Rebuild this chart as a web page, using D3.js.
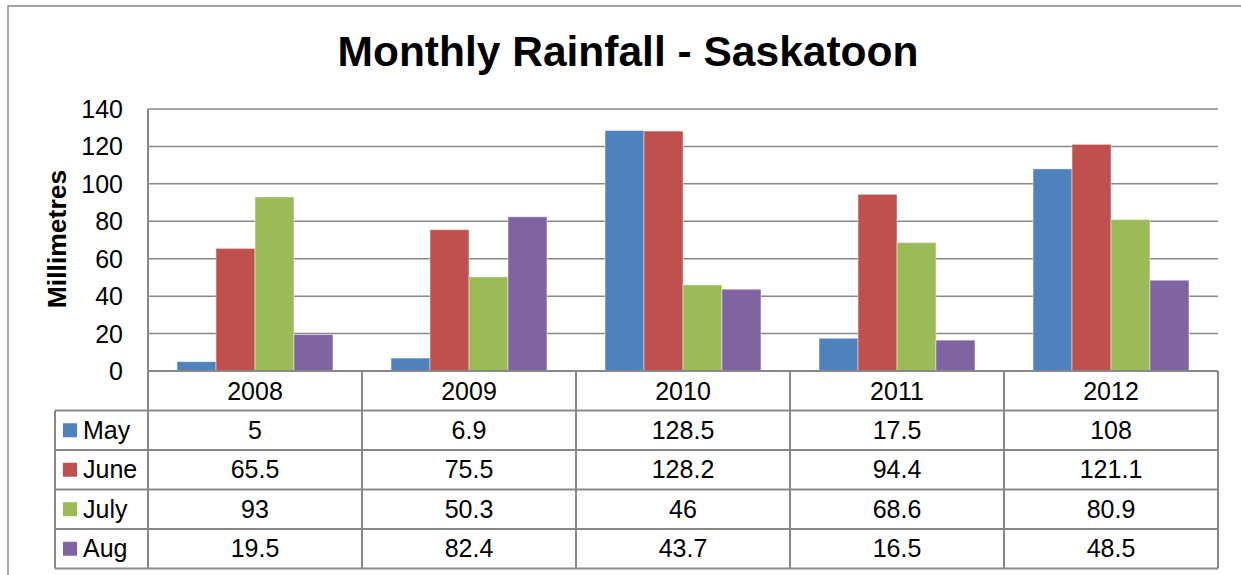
<!DOCTYPE html>
<html>
<head>
<meta charset="utf-8">
<script src="https://cdn.jsdelivr.net/npm/d3@7"></script>
<style>
  body { margin: 0; background: #fff; }
  svg { display: block; font-family: "Liberation Sans", Arial, sans-serif; }
</style>
</head>
<body>
<svg id="chart" width="1241" height="575"></svg>
<script>
// Chart data
var years = ['2008', '2009', '2010', '2011', '2012'];
var months = ['May', 'June', 'July', 'Aug'];
var mayValues = [5, 6.9, 128.5, 17.5, 108];
var juneValues = [65.5, 75.5, 128.2, 94.4, 121.1];
var julyValues = [93, 50.3, 46, 68.6, 80.9];
var augValues = [19.5, 82.4, 43.7, 16.5, 48.5];
var yTicks = [0, 20, 40, 60, 80, 100, 120, 140];

var seriesValues = [mayValues, juneValues, julyValues, augValues];
var colours = ['#4F81BD', '#C0504D', '#9BBB59', '#8064A2'];

var svg = d3.select('#chart');
var plot = { left: 148, right: 1218, top: 109, bottom: 371 };
var rowHeight = 39.5;
var tableLeft = 55;
var gridColour = '#888';
var tableFont = '25px';

var x = d3.scaleBand()
    .domain(years)
    .range([plot.left, plot.right])
    .padding(0);

var xInner = d3.scaleBand()
    .domain(months)
    .range([0, x.bandwidth()])
    .paddingInner(0)
    .paddingOuter(0.745);

var y = d3.scaleLinear()
    .domain([0, 140])
    .range([plot.bottom, plot.top]);

// Outer chart border (only the top and left edges are in view)
svg.append('path')
    .attr('d', 'M8,575V6H1241')
    .attr('fill', 'none')
    .attr('stroke', gridColour)
    .attr('stroke-width', 1.5);

// Title
svg.append('text')
    .attr('x', 628)
    .attr('y', 66)
    .attr('text-anchor', 'middle')
    .style('font-size', '42.5px')
    .style('font-weight', 'bold')
    .text('Monthly Rainfall - Saskatoon');

// Gridlines
svg.append('g')
    .selectAll('line')
    .data(yTicks)
    .enter()
    .append('line')
        .attr('x1', plot.left)
        .attr('x2', plot.right)
        .attr('y1', function(d) { return y(d); })
        .attr('y2', function(d) { return y(d); })
        .attr('stroke', gridColour)
        .attr('stroke-width', 1.5);

// Y axis tick labels
svg.append('g')
    .selectAll('text')
    .data(yTicks)
    .enter()
    .append('text')
        .attr('x', 123)
        .attr('y', function(d) { return y(d) + 9; })
        .attr('text-anchor', 'end')
        .style('font-size', '25px')
        .text(function(d) { return d; });

// Y axis title
svg.append('text')
    .attr('transform', 'translate(66,239) rotate(-90)')
    .attr('text-anchor', 'middle')
    .style('font-size', '26.5px')
    .style('font-weight', 'bold')
    .text('Millimetres');

// Bars
var groups = svg.append('g')
    .selectAll('g')
    .data(years)
    .enter()
    .append('g')
        .attr('transform', function(d) { return 'translate(' + x(d) + ',0)'; });

groups.selectAll('rect')
    .data(function(d, i) {
        return months.map(function(m, j) {
            return { month: m, value: seriesValues[j][i], colour: colours[j] };
        });
    })
    .enter()
    .append('rect')
        .attr('x', function(d) { return xInner(d.month); })
        .attr('y', function(d) { return y(d.value); })
        .attr('width', xInner.bandwidth())
        .attr('height', function(d) { return y(0) - y(d.value); })
        .attr('fill', function(d) { return d.colour; })
        .attr('stroke', 'rgba(255,255,255,0.45)')
        .attr('stroke-width', 1);

// Data table
var table = svg.append('g');
var tableBottom = plot.bottom + rowHeight * 5;

// Horizontal lines: header bottom and each series row
d3.range(6).forEach(function(i) {
    var yy = plot.bottom + rowHeight * i;
    table.append('line')
        .attr('x1', i === 0 ? plot.left : tableLeft)
        .attr('x2', plot.right)
        .attr('y1', yy)
        .attr('y2', yy)
        .attr('stroke', gridColour)
        .attr('stroke-width', 2);
});

// Vertical lines
table.append('line')
    .attr('x1', tableLeft).attr('x2', tableLeft)
    .attr('y1', plot.bottom + rowHeight).attr('y2', tableBottom)
    .attr('stroke', gridColour).attr('stroke-width', 2);

table.append('line')
    .attr('x1', plot.left).attr('x2', plot.left)
    .attr('y1', plot.top).attr('y2', tableBottom)
    .attr('stroke', gridColour).attr('stroke-width', 2);

years.forEach(function(yr) {
    var xx = x(yr) + x.bandwidth();
    table.append('line')
        .attr('x1', xx).attr('x2', xx)
        .attr('y1', plot.bottom).attr('y2', tableBottom)
        .attr('stroke', gridColour).attr('stroke-width', 2);
});

// Category header labels
table.selectAll('text.year')
    .data(years)
    .enter()
    .append('text')
        .attr('class', 'year')
        .attr('x', function(d) { return x(d) + x.bandwidth() / 2; })
        .attr('y', plot.bottom + rowHeight / 2 + 9)
        .attr('text-anchor', 'middle')
        .style('font-size', tableFont)
        .text(function(d) { return d; });

// Series rows: legend key, name, values
months.forEach(function(m, j) {
    var rowMid = plot.bottom + rowHeight * (j + 1) + rowHeight / 2;

    table.append('rect')
        .attr('x', 63)
        .attr('y', rowMid - 7)
        .attr('width', 14)
        .attr('height', 14)
        .attr('fill', colours[j]);

    table.append('text')
        .attr('x', 83)
        .attr('y', rowMid + 8.5)
        .style('font-size', tableFont)
        .text(m);

    table.selectAll('text.v' + j)
        .data(seriesValues[j])
        .enter()
        .append('text')
            .attr('class', 'v' + j)
            .attr('x', function(d, i) { return x(years[i]) + x.bandwidth() / 2; })
            .attr('y', rowMid + 8.5)
            .attr('text-anchor', 'middle')
            .style('font-size', tableFont)
            .text(function(d) { return d; });
});
</script>
</body>
</html>
